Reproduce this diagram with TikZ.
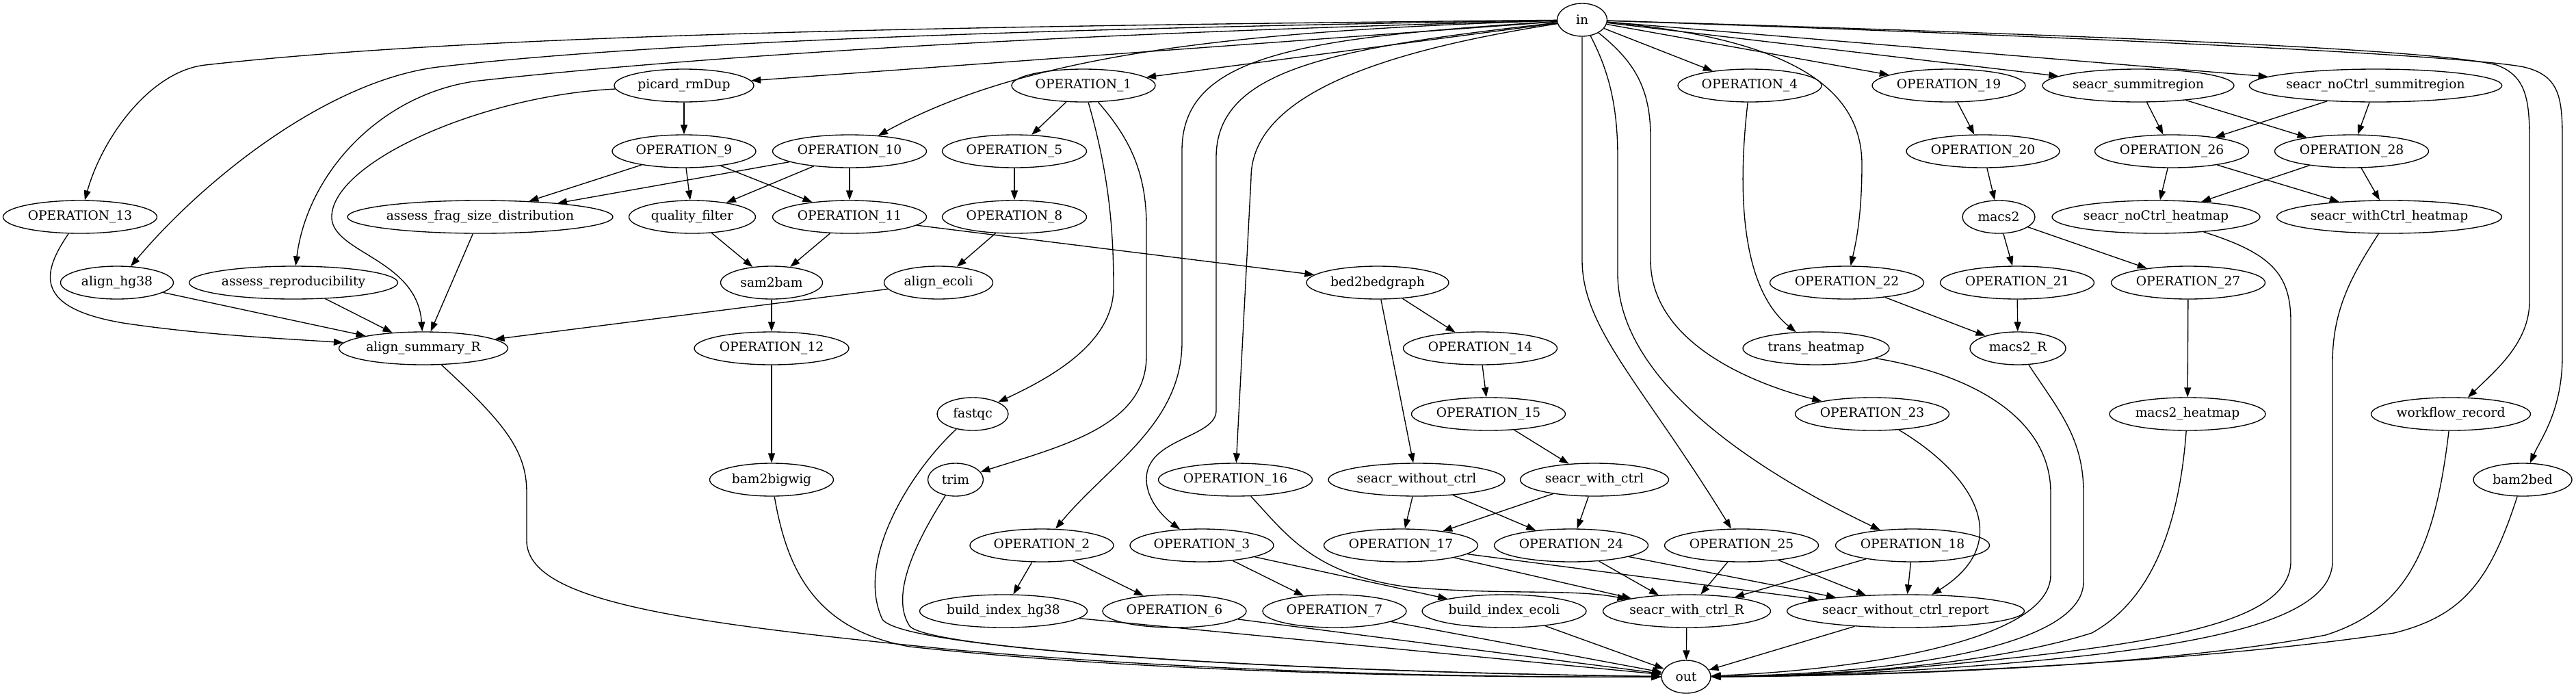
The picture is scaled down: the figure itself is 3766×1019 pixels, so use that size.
\documentclass[tikz,border=0pt]{standalone}
\usepackage{fontspec}
\setmainfont{DejaVu Serif}
\usetikzlibrary{shapes.geometric,arrows.meta}
\begin{document}
\begin{tikzpicture}[x=0.5pt,y=-0.5pt,
 gv/.style={ellipse,draw,line width=0.67pt,inner sep=0pt,minimum height=24pt,minimum width={#1*0.5pt},font=\fontsize{9.33}{11}\selectfont},
 e/.style={line width=0.67pt,-{Triangle[length=7pt,width=5pt]}}]
\useasboundingbox (0,0) rectangle (3766,1019);
% rank 0
\node[gv=73] (in) at (2313,29) {in};
% rank 1
\node[gv=204] (picard) at (1000,125) {picard\_rmDup};
\node[gv=210] (op1) at (1584,125) {OPERATION\_1};
\node[gv=210] (op4) at (2558,125) {OPERATION\_4};
\node[gv=224] (op19) at (2849,125) {OPERATION\_19};
\node[gv=280] (ssr) at (3126,125) {seacr\_summitregion};
\node[gv=369] (sncsr) at (3473,125) {seacr\_noCtrl\_summitregion};
% rank 2
\node[gv=210] (op9) at (1000,221) {OPERATION\_9};
\node[gv=225] (op10) at (1242,221) {OPERATION\_10};
\node[gv=211] (op5) at (1483,221) {OPERATION\_5};
\node[gv=224] (op20) at (2899,221) {OPERATION\_20};
\node[gv=225] (op26) at (3175,221) {OPERATION\_26};
\node[gv=225] (op28) at (3438,221) {OPERATION\_28};
% rank 3
\node[gv=225] (op13) at (117,317) {OPERATION\_13};
\node[gv=388] (afsd) at (702,317) {assess\_frag\_size\_distribution};
\node[gv=185] (qf) at (1012,317) {quality\_filter};
\node[gv=225] (op11) at (1242,317) {OPERATION\_11};
\node[gv=211] (op8) at (1483,317) {OPERATION\_8};
\node[gv=106] (macs2) at (2922,317) {macs2};
\node[gv=304] (sncheat) at (3152,317) {seacr\_noCtrl\_heatmap};
\node[gv=329] (swcheat) at (3493,317) {seacr\_withCtrl\_heatmap};
% rank 4
\node[gv=165] (alhg38) at (171,413) {align\_hg38};
\node[gv=305] (arepro) at (429,413) {assess\_reproducibility};
\node[gv=149] (sam2bam) at (1128,413) {sam2bam};
\node[gv=159] (alecoli) at (1372,413) {align\_ecoli};
\node[gv=208] (bed2bg) at (2014,413) {bed2bedgraph};
\node[gv=225] (op22) at (2700,413) {OPERATION\_22};
\node[gv=225] (op21) at (2949,413) {OPERATION\_21};
\node[gv=225] (op27) at (3199,413) {OPERATION\_27};
% rank 5
\node[gv=247] (asumR) at (619,509) {align\_summary\_R};
\node[gv=226] (op12) at (1128,509) {OPERATION\_12};
\node[gv=225] (op14) at (2164,509) {OPERATION\_14};
\node[gv=214] (trh) at (2655,509) {trans\_heatmap};
\node[gv=140] (macs2R) at (2950,509) {macs2\_R};
% rank 6
\node[gv=104] (fastqc) at (1422,605) {fastqc};
\node[gv=225] (op15) at (2176,605) {OPERATION\_15};
\node[gv=225] (op23) at (2737,605) {OPERATION\_23};
\node[gv=228] (m2heat) at (3198,605) {macs2\_heatmap};
\node[gv=233] (wfrec) at (3583,605) {workflow\_record};
% rank 7
\node[gv=181] (bam2bw) at (1128,701) {bam2bigwig};
\node[gv=81] (trim) at (1397,701) {trim};
\node[gv=225] (op16) at (1806,701) {OPERATION\_16};
\node[gv=258] (swoc) at (2071,701) {seacr\_without\_ctrl};
\node[gv=217] (swc) at (2331,701) {seacr\_with\_ctrl};
\node[gv=144] (bam2bed) at (3688,701) {bam2bed};
% rank 8
\node[gv=210] (op2) at (1523,797) {OPERATION\_2};
\node[gv=210] (op3) at (1757,797) {OPERATION\_3};
\node[gv=225] (op17) at (2048,797) {OPERATION\_17};
\node[gv=225] (op24) at (2297,797) {OPERATION\_24};
\node[gv=225] (op25) at (2546,797) {OPERATION\_25};
\node[gv=225] (op18) at (2796,797) {OPERATION\_18};
% rank 9
\node[gv=245] (bihg38) at (1467,893) {build\_index\_hg38};
\node[gv=210] (op6) at (1717,893) {OPERATION\_6};
\node[gv=210] (op7) at (1951,893) {OPERATION\_7};
\node[gv=240] (biecoli) at (2199,893) {build\_index\_ecoli};
\node[gv=245] (swcR) at (2466,893) {seacr\_with\_ctrl\_R};
\node[gv=347] (swocrep) at (2786,893) {seacr\_without\_ctrl\_report};
% rank 10
\node[gv=72] (out) at (2465,989) {out};

% ---- straight edges
\foreach \a/\b in {in/picard,in/op1,in/op4,in/op19,in/ssr,in/sncsr,
  picard/op9,op9/afsd,op9/qf,op9/op11,op10/afsd,op10/qf,op10/op11,
  op1/op5,op5/op8,op8/alecoli,qf/sam2bam,op11/sam2bam,sam2bam/op12,op12/bam2bw,
  op11/bed2bg,alhg38/asumR,arepro/asumR,afsd/asumR,alecoli/asumR,
  op19/op20,op20/macs2,macs2/op21,macs2/op27,op21/macs2R,op22/macs2R,op27/m2heat,
  ssr/op26,ssr/op28,sncsr/op26,sncsr/op28,op26/sncheat,op26/swcheat,op28/sncheat,op28/swcheat,
  bed2bg/op14,bed2bg/swoc,op14/op15,op15/swc,swoc/op17,swoc/op24,swc/op17,swc/op24,
  op17/swcR,op17/swocrep,op24/swcR,op24/swocrep,op25/swcR,op25/swocrep,op18/swcR,op18/swocrep,
  op2/bihg38,op2/op6,op3/op7,op3/biecoli,
  bihg38/out,op6/out,op7/out,biecoli/out,swcR/out,swocrep/out}
  \draw[e] (\a) -- (\b);

% ---- curved edges
\draw[e] (in) .. controls (1400,38) and (700,50) .. (300,95) .. controls (220,104) and (150,200) .. (op13);
\draw[e] (in) .. controls (1500,42) and (950,62) .. (640,98) .. controls (480,118) and (300,260) .. (alhg38);
\draw[e] (in) .. controls (1500,50) and (1000,85) .. (700,118) .. controls (560,135) and (450,250) .. (arepro);
\draw[e] (picard) .. controls (700,140) and (480,240) .. (485,320) .. controls (490,370) and (610,380) .. (asumR);
\draw[e] (op13) .. controls (60,400) and (50,450) .. (180,472) .. controls (300,490) and (420,495) .. (asumR);
\draw[e] (in) .. controls (1800,45) and (1500,80) .. (op10);
\draw[e] (op1) .. controls (1620,250) and (1628,330) .. (1628,420) .. controls (1628,500) and (1540,550) .. (fastqc);
\draw[e] (op1) .. controls (1650,200) and (1676,250) .. (1676,330) -- (1676,520) .. controls (1676,620) and (1560,650) .. (trim);
\draw[e] (in) .. controls (1900,55) and (1728,80) .. (1728,220) -- (1728,500) .. controls (1728,620) and (1620,680) .. (op2);
\draw[e] (in) .. controls (1950,70) and (1778,100) .. (1778,230) -- (1778,600) .. controls (1778,640) and (1676,640) .. (1676,700) .. controls (1676,730) and (1700,755) .. (op3);
\draw[e] (in) .. controls (2050,70) and (1829,130) .. (1829,260) -- (op16);
\draw[e] (in) -- (2313,380) .. controls (2313,480) and (2400,560) .. (op25);
\draw[e] (in) .. controls (2350,100) and (2365,150) .. (2365,230) -- (2365,400) .. controls (2365,550) and (2550,680) .. (op18);
\draw[e] (in) .. controls (2390,90) and (2413,130) .. (2413,200) -- (2413,380) .. controls (2413,500) and (2560,560) .. (op23);
\draw[e] (in) .. controls (2600,55) and (2722,120) .. (2722,240) .. controls (2722,320) and (2712,360) .. (op22);
\draw[e] (in) .. controls (3000,50) and (3550,70) .. (3650,95) .. controls (3690,110) and (3698,140) .. (3698,200) -- (3698,440) .. controls (3698,500) and (3650,540) .. (wfrec);
\draw[e] (in) .. controls (3000,52) and (3600,80) .. (3690,98) .. controls (3740,110) and (3746,140) .. (3746,200) -- (3746,520) .. controls (3746,600) and (3715,640) .. (bam2bed);
\draw[e] (op4) .. controls (2540,280) and (2545,420) .. (trh);
\draw[e] (op16) .. controls (1880,780) and (1920,840) .. (2060,858) .. controls (2200,870) and (2300,860) .. (swcR);
\draw[e] (op23) .. controls (2880,690) and (2950,790) .. (swocrep);
% into out
\draw[e] (asumR) .. controls (740,620) and (770,660) .. (770,720) -- (770,790) .. controls (770,880) and (1000,910) .. (1400,950) .. controls (1800,985) and (2200,990) .. (out);
\draw[e] (bam2bw) .. controls (1150,830) and (1190,920) .. (1330,945) .. controls (1700,985) and (2150,990) .. (out);
\draw[e] (fastqc) .. controls (1330,690) and (1250,820) .. (1290,905) .. controls (1320,950) and (1900,982) .. (out);
\draw[e] (trim) .. controls (1340,790) and (1300,870) .. (1330,915) .. controls (1360,950) and (1900,982) .. (out);
\draw[e] (trh) .. controls (2900,550) and (2998,620) .. (2998,720) -- (2998,840) .. controls (2998,940) and (2700,980) .. (out);
\draw[e] (macs2R) .. controls (3010,600) and (3046,640) .. (3046,720) -- (3046,850) .. controls (3046,950) and (2750,985) .. (out);
\draw[e] (m2heat) .. controls (3185,780) and (3140,880) .. (3058,925) .. controls (2900,975) and (2650,988) .. (out);
\draw[e] (sncheat) .. controls (3320,370) and (3349,400) .. (3349,470) -- (3349,820) .. controls (3349,900) and (3200,930) .. (3000,955) .. controls (2800,978) and (2650,988) .. (out);
\draw[e] (swcheat) .. controls (3440,400) and (3410,450) .. (3410,530) -- (3410,820) .. controls (3410,900) and (3250,935) .. (3050,958) .. controls (2850,980) and (2650,988) .. (out);
\draw[e] (wfrec) .. controls (3560,800) and (3520,890) .. (3400,928) .. controls (3150,975) and (2750,988) .. (out);
\draw[e] (bam2bed) .. controls (3640,850) and (3600,900) .. (3500,925) .. controls (3200,970) and (2750,988) .. (out);
\end{tikzpicture}
\end{document}
